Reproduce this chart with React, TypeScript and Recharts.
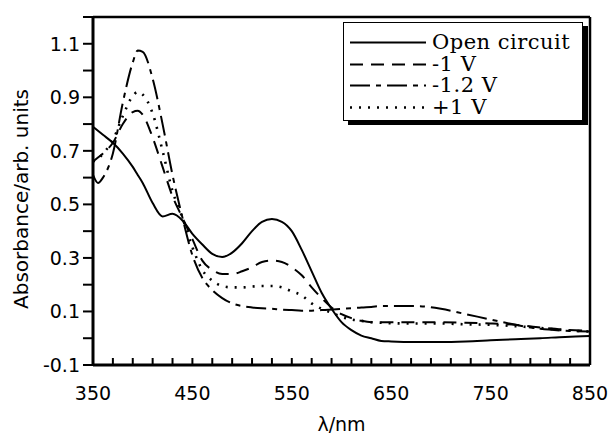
import { LineChart, Line, XAxis, YAxis, ReferenceLine } from "recharts";

// wavelength grid (nm)
const wavelength = [
  350, 355, 360, 370, 380, 390, 395, 400, 410, 420, 430, 440, 450, 460, 470, 480, 490, 500, 510, 520,
  530, 540, 550, 560, 570, 580, 590, 600, 610, 620, 630, 640, 650, 675, 700, 725, 750, 775, 800, 825, 850,
];

const openCircuit = [
  0.79, 0.775, 0.76, 0.73, 0.69, 0.64, 0.61, 0.58, 0.505, 0.455, 0.465, 0.44, 0.39, 0.35, 0.315, 0.303, 0.32, 0.355, 0.4, 0.435,
  0.445, 0.435, 0.4, 0.33, 0.25, 0.17, 0.11, 0.06, 0.03, 0.01, 0.0, -0.01, -0.012, -0.014, -0.014, -0.012, -0.008, -0.004, 0.0, 0.005, 0.008,
];

const minus1V = [
  0.66, 0.675, 0.69, 0.73, 0.8, 0.845, 0.85, 0.835, 0.75, 0.64, 0.53, 0.45, 0.37, 0.29, 0.255, 0.24, 0.24, 0.25, 0.265, 0.285,
  0.29, 0.285, 0.265, 0.235, 0.19, 0.15, 0.115, 0.09, 0.075, 0.065, 0.06, 0.06, 0.06, 0.06, 0.06, 0.058, 0.055, 0.05, 0.04, 0.032, 0.028,
];

const minus12V = [
  0.61, 0.58, 0.6, 0.69, 0.88, 1.03, 1.075, 1.07, 0.97, 0.8, 0.61, 0.45, 0.31, 0.225, 0.18, 0.15, 0.13, 0.12, 0.115, 0.112,
  0.11, 0.107, 0.105, 0.103, 0.103, 0.105, 0.107, 0.11, 0.112, 0.115, 0.117, 0.12, 0.12, 0.12, 0.11, 0.09, 0.07, 0.05, 0.035, 0.028, 0.025,
];

const plus1V = [
  0.66, 0.67, 0.69, 0.74, 0.83, 0.905, 0.92, 0.91, 0.84, 0.7, 0.55, 0.45, 0.34, 0.255, 0.215, 0.195, 0.19, 0.19, 0.193, 0.195,
  0.195, 0.19, 0.175, 0.16, 0.13, 0.11, 0.095, 0.08, 0.07, 0.065, 0.06, 0.058, 0.056, 0.055, 0.055, 0.052, 0.05, 0.045, 0.038, 0.03, 0.025,
];

const xTicks = [350, 370, 390, 410, 430, 450, 470, 490, 510, 530, 550, 570, 590, 610, 630, 650, 670, 690, 710, 730, 750, 770, 790, 810, 830, 850];
const yTicks = [-0.1, 0, 0.1, 0.2, 0.3, 0.4, 0.5, 0.6, 0.7, 0.8, 0.9, 1.0, 1.1, 1.2];

const series = [
  { key: "oc", name: "Open circuit", values: openCircuit, dash: undefined, width: 2 },
  { key: "m1", name: "-1 V", values: minus1V, dash: "13 8", width: 2 },
  { key: "m12", name: "-1.2 V", values: minus12V, dash: "20 6 5 6", width: 2 },
  { key: "p1", name: "+1 V", values: plus1V, dash: "2 7", width: 2.6 },
];

const data = wavelength.map((nm, i) => {
  const row: Record<string, number> = { nm };
  series.forEach((s) => (row[s.key] = s.values[i]));
  return row;
});

const SANS = "'DejaVu Sans', sans-serif";
const SERIF = "'DejaVu Serif', serif";

// x ticks point into the plot; only every 100 nm carries a label
function XTick(props: any) {
  const { x, y, payload } = props;
  const v = payload.value as number;
  const labelled = (v - 350) % 100 === 0;
  return (
    <g>
      <line x1={x} y1={y} x2={x} y2={y - 7} stroke="#000" strokeWidth={2} />
      {labelled && (
        <text x={x} y={y + 35} textAnchor="middle" fontFamily={SANS} fontSize={19} fill="#000">
          {v}
        </text>
      )}
    </g>
  );
}

function formatY(v: number) {
  const k = Math.round(v * 10);
  return Math.abs(k) % 2 === 1 ? (k / 10).toFixed(1) : "";
}

function YLabel(props: any) {
  const vb = props.viewBox;
  const cx = vb.x + 28;
  const cy = vb.y + vb.height / 2 + 8;
  return (
    <text
      x={cx}
      y={cy}
      transform={`rotate(-90, ${cx}, ${cy})`}
      textAnchor="middle"
      fontFamily={SANS}
      fontSize={20}
      fill="#000"
    >
      Absorbance/arb. units
    </text>
  );
}

function LegendBox() {
  return (
    <div
      style={{
        position: "absolute",
        left: 343,
        top: 22,
        width: 240,
        height: 99,
        border: "1.5px solid #000",
        boxShadow: "5px 4px 0 #000",
        background: "#fff",
        boxSizing: "border-box",
      }}
    >
      {series.map((s, i) => (
        <div
          key={s.key}
          style={{ position: "absolute", left: 0, top: 9 + i * 21.7, height: 21, display: "flex", alignItems: "center" }}
        >
          <svg width={86} height={21} style={{ display: "block" }}>
            <line x1={6} y1={10.5} x2={82} y2={10.5} stroke="#000" strokeWidth={s.width} strokeDasharray={s.dash} />
          </svg>
          <span
            style={{
              fontFamily: SERIF,
              fontSize: 21,
              lineHeight: "21px",
              letterSpacing: 0.5,
              color: "#000",
              marginLeft: 2,
              whiteSpace: "nowrap",
            }}
          >
            {s.name}
          </span>
        </div>
      ))}
    </div>
  );
}

export default function App() {
  return (
    <div style={{ position: "absolute", left: 0, top: 0, width: 611, height: 435, background: "#fff" }}>
      <LineChart width={611} height={435} data={data} margin={{ top: 17, right: 21, left: 0, bottom: 0 }}>
        <XAxis
          dataKey="nm"
          type="number"
          domain={[350, 850]}
          ticks={xTicks}
          interval={0}
          tick={<XTick />}
          tickLine={false}
          tickSize={0}
          tickMargin={0}
          height={70}
          axisLine={{ stroke: "#000", strokeWidth: 3 }}
          label={{ value: "λ/nm", position: "insideBottom", offset: 4, fontFamily: SANS, fontSize: 19, fill: "#000" }}
        />
        <YAxis
          type="number"
          domain={[-0.1, 1.2]}
          ticks={yTicks}
          interval={0}
          width={93}
          tickFormatter={formatY}
          tickSize={10}
          tickMargin={3}
          tickLine={{ stroke: "#000", strokeWidth: 2 }}
          tick={{ fontFamily: SANS, fontSize: 19, fill: "#000" }}
          axisLine={{ stroke: "#000", strokeWidth: 3 }}
          label={{ content: (p: any) => <YLabel {...p} /> }}
        />
        <ReferenceLine y={1.2} stroke="#000" strokeWidth={2.5} ifOverflow="visible" />
        <ReferenceLine x={850} stroke="#000" strokeWidth={2.5} ifOverflow="visible" />
        {series.map((s) => (
          <Line
            key={s.key}
            dataKey={s.key}
            name={s.name}
            type="monotone"
            stroke="#000"
            strokeWidth={s.width}
            strokeDasharray={s.dash}
            dot={false}
            isAnimationActive={false}
          />
        ))}
      </LineChart>
      <LegendBox />
    </div>
  );
}
